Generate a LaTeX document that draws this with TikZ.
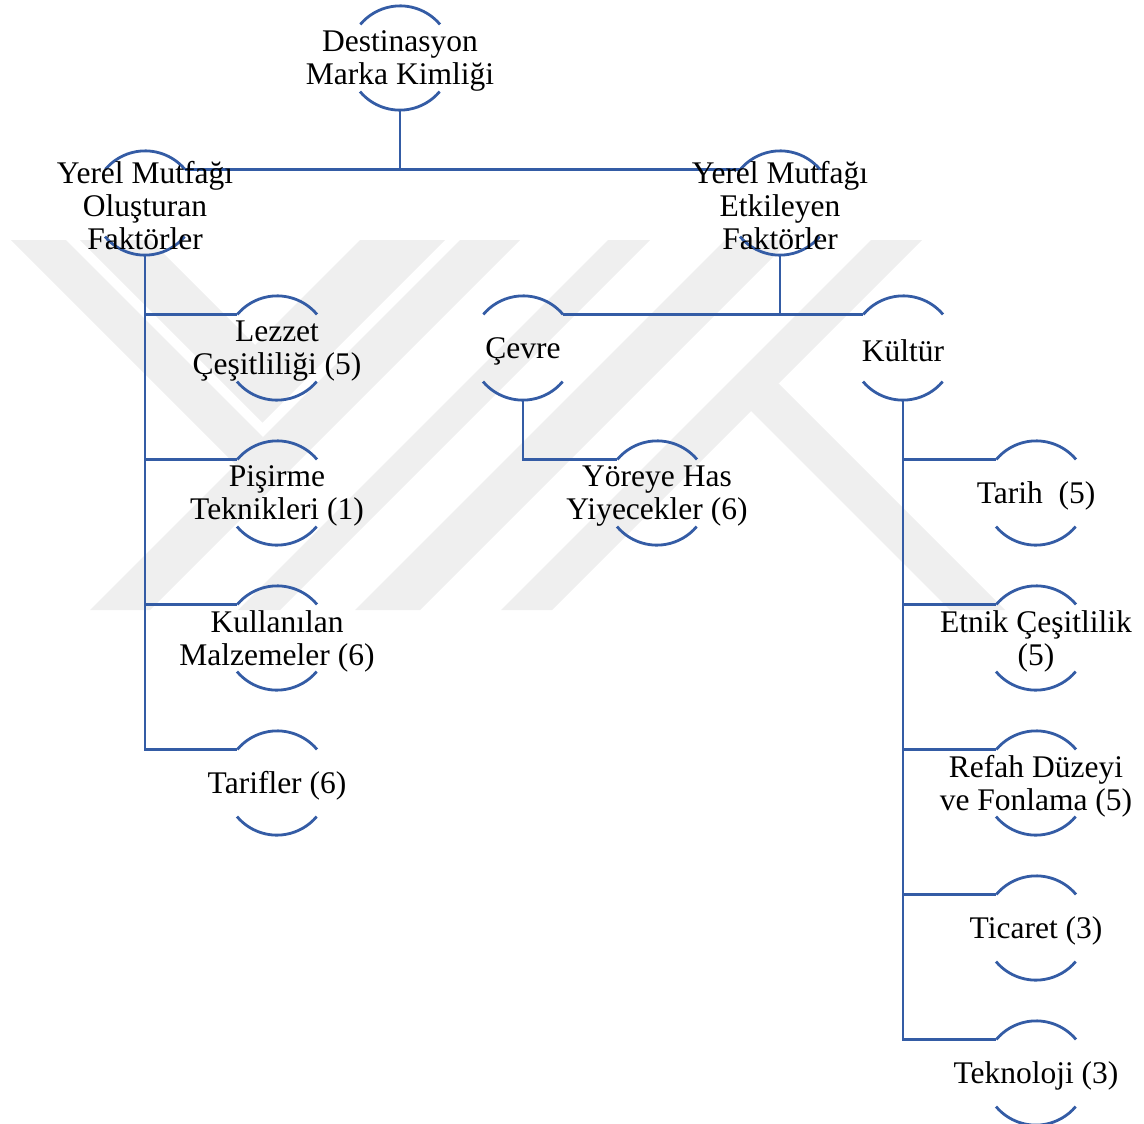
\documentclass[tikz,border=0pt]{standalone}
\usepackage{fontspec}
\setmainfont{Liberation Serif}
\definecolor{lineblue}{RGB}{52,92,165}
\definecolor{wmgray}{RGB}{239,239,239}
\begin{document}
\begin{tikzpicture}[x=1pt,y=1pt,
  hub/.style={circle,minimum size=104pt,inner sep=0pt,draw=none},
  txt/.style={align=center,inner sep=0pt,yshift=-3pt,font=\fontsize{31.5}{33}\selectfont},
  conn/.style={draw=lineblue,line width=2.8pt},
  arcline/.style={draw=lineblue,line width=2.8pt},
  wm/.style={fill=wmgray,draw=none}]
\useasboundingbox (0,0) rectangle (1144,-1124);
% watermark
\fill[wm] (460,-240) -- (520,-240) -- (150,-610) -- (90,-610) -- cycle;
\fill[wm] (11,-240) -- (66,-240) -- (263,-437) -- (235.5,-464.5) -- cycle;
\fill[wm] (80,-240) -- (150,-240) -- (255,-345) -- (345,-255) -- (360,-240) -- (445,-240) -- (262.5,-422.5) -- cycle;
\fill[wm] (608,-240) -- (650,-240) -- (280,-610) -- (238,-610) -- cycle;
\fill[wm] (725,-240) -- (790,-240) -- (420,-610) -- (355,-610) -- cycle;
\fill[wm] (871,-240) -- (922,-240) -- (552,-610) -- (501,-610) -- cycle;
\fill[wm] (735.5,-395.5) -- (778.5,-383.5) -- (1005,-610) -- (950,-610) -- cycle;
% nodes
\node[hub] (root) at (400,-58) {};
\node[hub] (A) at (145,-203) {};
\node[hub] (B) at (780,-203) {};
\node[hub] (L1) at (277,-348) {};
\node[hub] (L2) at (277,-493) {};
\node[hub] (L3) at (277,-638) {};
\node[hub] (L4) at (277,-783) {};
\node[hub] (C) at (523,-348) {};
\node[hub] (K) at (903,-348) {};
\node[hub] (Y) at (657,-493) {};
\node[hub] (K1) at (1036,-493) {};
\node[hub] (K2) at (1036,-638) {};
\node[hub] (K3) at (1036,-783) {};
\node[hub] (K4) at (1036,-928) {};
\node[hub] (K5) at (1036,-1073) {};
% arcs
\foreach \n in {root,A,B,L1,L2,L3,L4,C,K,Y,K1,K2,K3,K4,K5}{
  \draw[arcline] (\n.40) arc[start angle=40,end angle=140,radius=52pt];
  \draw[arcline] (\n.220) arc[start angle=220,end angle=320,radius=52pt];
}
% connectors
\draw[conn] (root.south) -- (root.south |- A.40);
\draw[conn] (A.40) -- (B.140);
\draw[conn] (A.south) -- (A.south |- L4.140) -- (L4.140);
\foreach \n in {L1,L2,L3}{\draw[conn] (A.south |- \n.140) -- (\n.140);}
\draw[conn] (B.south) -- (B.south |- C.40);
\draw[conn] (C.40) -- (K.140);
\draw[conn] (C.south) -- (C.south |- Y.140) -- (Y.140);
\draw[conn] (K.south) -- (K.south |- K5.140) -- (K5.140);
\foreach \n in {K1,K2,K3,K4}{\draw[conn] (K.south |- \n.140) -- (\n.140);}
% texts
\node[txt] (troot) at (root) {Destinasyon\\Marka Kimliği};
\node[txt] (tA) at (A) {Yerel Mutfağı\\Oluşturan\\Faktörler};
\node[txt] (tB) at (B) {Yerel Mutfağı\\Etkileyen\\Faktörler};
\node[txt] (tL1) at (L1) {Lezzet\\Çeşitliliği (5)};
\node[txt] (tL2) at (L2) {Pişirme\\Teknikleri (1)};
\node[txt] (tL3) at (L3) {Kullanılan\\Malzemeler (6)};
\node[txt] (tL4) at (L4) {Tarifler (6)};
\node[txt] (tC) at (C) {Çevre};
\node[txt] (tK) at (K) {Kültür};
\node[txt] (tY) at (Y) {Yöreye Has\\Yiyecekler (6)};
\node[txt] (tK1) at (K1) {Tarih\ \ (5)};
\node[txt] (tK2) at (K2) {Etnik Çeşitlilik\\(5)};
\node[txt] (tK3) at (K3) {Refah Düzeyi\\ve Fonlama (5)};
\node[txt] (tK4) at (K4) {Ticaret (3)};
\node[txt] (tK5) at (K5) {Teknoloji (3)};
\end{tikzpicture}
\end{document}
